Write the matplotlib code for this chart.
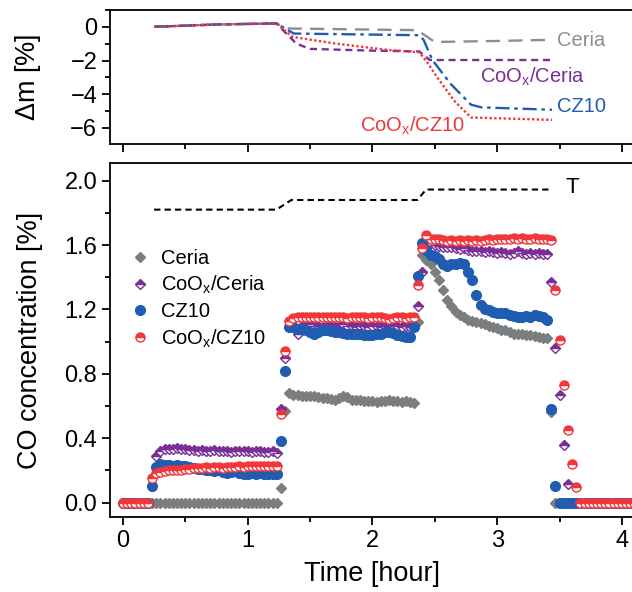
# CO concentration and mass change vs time for ceria-based catalysts
import numpy as np
import matplotlib
matplotlib.use("Agg")
import matplotlib.pyplot as plt
from matplotlib.ticker import MultipleLocator

plt.rcParams['font.family'] = ['Liberation Sans', 'DejaVu Sans']
plt.rcParams['mathtext.default'] = 'regular'

# colours
c_grey = "#7a7e7e"
c_grey_line = "#8e8e8e"
c_purple = "#7a2e96"
c_blue = "#1f5cb2"
c_red = "#f2373a"

# --- top panel: mass change (TGA) ---
dm_ceria_t = [0.25, 0.76, 1.23, 1.33, 2.36, 2.50, 3.0, 3.44]
dm_ceria = [0.0, 0.14, 0.2, -0.1, -0.2, -0.9, -0.84, -0.77]

dm_coceria_t = [0.25, 0.76, 1.23, 1.39, 1.50, 1.98, 2.375, 2.46, 3.44]
dm_coceria = [0.0, 0.14, 0.2, -1.0, -1.31, -1.41, -1.46, -1.97, -1.97]

dm_cz10_t = [0.25, 0.76, 1.23, 1.37, 2.375, 2.41, 2.48, 2.63, 2.79, 2.876, 3.44]
dm_cz10 = [0.0, 0.14, 0.2, -0.4, -0.5, -0.77, -1.97, -3.41, -4.62, -4.78, -4.92]

dm_cocz10_t = [0.25, 0.76, 1.23, 1.36, 1.71, 2.12, 2.375, 2.44, 2.52, 2.66, 2.79, 3.44]
dm_cocz10 = [0.0, 0.14, 0.2, -0.6, -1.0, -1.37, -1.51, -2.11, -3.01, -4.42, -5.38, -5.52]

# --- bottom panel: temperature profile (scaled) ---
temp_t = [0.25, 1.23, 1.35, 2.36, 2.43, 3.42]
temp_y = [1.82, 1.82, 1.88, 1.88, 1.945, 1.945]

# --- bottom panel: CO concentration, one sample every 2 min ---
dt = 2 / 60

co_ceria = [
    0, 0, 0, 0, 0, 0, 0, 0, 0, 0,
    0, 0, 0, 0, 0, 0, 0, 0, 0, 0,
    0, 0, 0, 0, 0, 0, 0, 0, 0, 0,
    0, 0, 0, 0, 0, 0, 0, 0, 0.09, 0.57,
    0.68, 0.67, 0.67, 0.665, 0.66, 0.665, 0.66, 0.655, 0.65, 0.65,
    0.645, 0.64, 0.65, 0.665, 0.655, 0.64, 0.635, 0.635, 0.63, 0.63,
    0.63, 0.625, 0.63, 0.63, 0.635, 0.63, 0.63, 0.625, 0.63, 0.625,
    0.62, 1.12, 1.54, 1.51, 1.48, 1.43, 1.38, 1.32, 1.26, 1.22,
    1.185, 1.165, 1.15, 1.135, 1.13, 1.12, 1.115, 1.11, 1.10, 1.09,
    1.085, 1.075, 1.07, 1.06, 1.05, 1.05, 1.045, 1.04, 1.04, 1.035,
    1.03, 1.025, 1.02, 0.56, 0, 0, 0, 0, 0, 0,
    0, 0, 0, 0, 0, 0, 0, 0, 0, 0,
    0, 0, 0, 0,
]

co_coceria = [
    0, 0, 0, 0, 0, 0, 0, 0.10, 0.29, 0.32,
    0.33, 0.335, 0.33, 0.34, 0.335, 0.33, 0.325, 0.325, 0.32, 0.325,
    0.32, 0.32, 0.325, 0.32, 0.32, 0.32, 0.315, 0.32, 0.32, 0.32,
    0.32, 0.315, 0.32, 0.32, 0.315, 0.315, 0.32, 0.31, 0.58, 0.90,
    1.09, 1.10, 1.05, 1.10, 1.10, 1.11, 1.10, 1.10, 1.09, 1.10,
    1.10, 1.09, 1.10, 1.11, 1.10, 1.10, 1.09, 1.10, 1.10, 1.09,
    1.10, 1.10, 1.09, 1.10, 1.09, 1.10, 1.10, 1.09, 1.10, 1.09,
    1.10, 1.22, 1.43, 1.60, 1.61, 1.60, 1.595, 1.59, 1.585, 1.59,
    1.58, 1.575, 1.58, 1.57, 1.565, 1.56, 1.56, 1.555, 1.56, 1.555,
    1.55, 1.555, 1.55, 1.545, 1.55, 1.56, 1.55, 1.545, 1.55, 1.545,
    1.55, 1.545, 1.545, 1.37, 0.96, 0.67, 0.36, 0.115, 0, 0,
    0, 0, 0, 0, 0, 0, 0, 0, 0, 0,
    0, 0, 0, 0,
]

co_cz10 = [
    0, 0, 0, 0, 0, 0, 0, 0.10, 0.22, 0.24,
    0.235, 0.235, 0.23, 0.235, 0.23, 0.225, 0.22, 0.215, 0.21, 0.21,
    0.205, 0.20, 0.195, 0.20, 0.19, 0.185, 0.19, 0.195, 0.185, 0.18,
    0.18, 0.185, 0.18, 0.185, 0.18, 0.18, 0.175, 0.18, 0.38, 0.82,
    1.09, 1.09, 1.08, 1.08, 1.07, 1.06, 1.05, 1.06, 1.07, 1.07,
    1.065, 1.06, 1.06, 1.055, 1.05, 1.05, 1.045, 1.05, 1.04, 1.04,
    1.04, 1.05, 1.05, 1.06, 1.06, 1.055, 1.04, 1.035, 1.03, 1.03,
    1.09, 1.41, 1.61, 1.57, 1.54, 1.53, 1.515, 1.48, 1.47, 1.48,
    1.485, 1.49, 1.48, 1.43, 1.38, 1.29, 1.23, 1.205, 1.195, 1.185,
    1.18, 1.18, 1.175, 1.165, 1.16, 1.155, 1.155, 1.16, 1.155, 1.165,
    1.16, 1.15, 1.135, 0.58, 0.10, 0, 0, 0, 0, 0,
    0, 0, 0, 0, 0, 0, 0, 0, 0, 0,
    0, 0, 0, 0,
]

co_cocz10 = [
    0, 0, 0, 0, 0, 0, 0, 0.155, 0.185, 0.19,
    0.195, 0.20, 0.20, 0.205, 0.205, 0.21, 0.21, 0.215, 0.215, 0.215,
    0.22, 0.215, 0.22, 0.22, 0.215, 0.22, 0.22, 0.22, 0.225, 0.22,
    0.225, 0.23, 0.225, 0.23, 0.225, 0.23, 0.23, 0.23, 0.55, 0.94,
    1.13, 1.145, 1.15, 1.15, 1.155, 1.15, 1.15, 1.155, 1.15, 1.15,
    1.155, 1.15, 1.155, 1.15, 1.145, 1.15, 1.15, 1.155, 1.15, 1.145,
    1.15, 1.155, 1.15, 1.145, 1.14, 1.145, 1.15, 1.15, 1.145, 1.15,
    1.15, 1.35, 1.58, 1.66, 1.64, 1.635, 1.635, 1.63, 1.625, 1.63,
    1.625, 1.63, 1.625, 1.63, 1.625, 1.63, 1.625, 1.63, 1.635, 1.63,
    1.635, 1.64, 1.635, 1.64, 1.645, 1.64, 1.645, 1.64, 1.64, 1.645,
    1.64, 1.635, 1.635, 1.63, 1.32, 1.01, 0.73, 0.45, 0.24, 0.095,
    0, 0, 0, 0, 0, 0, 0, 0, 0, 0,
    0, 0, 0, 0,
]

time = np.arange(len(co_cocz10)) * dt

fig = plt.figure(figsize=(6.32, 5.92), dpi=100)
ax_top = fig.add_axes([0.1748, 0.7568, 0.829, 0.2264])
ax_bot = fig.add_axes([0.1748, 0.1267, 0.829, 0.598])

# top panel
ax_top.plot(dm_ceria_t, dm_ceria, color=c_grey_line, lw=1.7, dashes=(6, 3.5))
ax_top.plot(dm_coceria_t, dm_coceria, color=c_purple, lw=1.7, dashes=(3, 2))
ax_top.plot(dm_cz10_t, dm_cz10, color=c_blue, lw=1.7, dashes=(6, 2, 1.5, 2))
ax_top.plot(dm_cocz10_t, dm_cocz10, color=c_red, lw=1.7, dashes=(1, 1))

lbl_kw = dict(fontsize=14.5, va="center", ha="left")
ax_top.text(3.48, -0.8, "Ceria", color=c_grey_line, **lbl_kw)
ax_top.text(2.86, -2.95, "CoO$_x$/Ceria", color=c_purple, **lbl_kw)
ax_top.text(3.48, -4.75, "CZ10", color=c_blue, **lbl_kw)
ax_top.text(1.90, -5.85, "CoO$_x$/CZ10", color=c_red, **lbl_kw)

ax_top.set_ylim(-6.95, 1.0)
ax_top.yaxis.set_major_locator(MultipleLocator(2))
ax_top.yaxis.set_minor_locator(MultipleLocator(1))
ax_top.set_ylabel(r"$\Delta$m [%]", fontsize=19.5)
ax_top.tick_params(axis="x", labelbottom=False)

# bottom panel
ax_bot.plot(temp_t, temp_y, color="black", lw=1.5, dashes=(3, 2))
ax_bot.text(3.55, 1.96, "T", fontsize=16, ha="left", va="center")

ax_bot.plot(time, co_ceria, ls="none", marker="D", ms=5.5, color=c_grey,
            mec=c_grey, label="Ceria")
ax_bot.plot(time, co_coceria, ls="none", marker="D", ms=5.5, color=c_purple,
            mec=c_purple, mew=1.0, fillstyle="top", markerfacecoloralt="white",
            label="CoO$_x$/Ceria")
ax_bot.plot(time, co_cz10, ls="none", marker="o", ms=7, color=c_blue,
            mec=c_blue, label="CZ10")
ax_bot.plot(time, co_cocz10, ls="none", marker="o", ms=6.5, color=c_red,
            mec=c_red, mew=1.0, fillstyle="top", markerfacecoloralt="white",
            label="CoO$_x$/CZ10")

ax_bot.set_ylim(-0.09, 2.11)
ax_bot.yaxis.set_major_locator(MultipleLocator(0.4))
ax_bot.yaxis.set_minor_locator(MultipleLocator(0.2))
ax_bot.yaxis.set_major_formatter(plt.FormatStrFormatter("%.1f"))
ax_bot.set_xlabel("Time [hour]", fontsize=19.5)
ax_bot.set_ylabel("CO concentration [%]", fontsize=19.5)

ax_bot.legend(loc="upper left", bbox_to_anchor=(0.037, 0.757), frameon=False,
              fontsize=14.5, handlelength=1.0, handletextpad=0.55,
              labelspacing=0.3, borderpad=0, borderaxespad=0, numpoints=1)

for ax in (ax_top, ax_bot):
    ax.set_xlim(-0.1, 4.1)
    ax.xaxis.set_major_locator(MultipleLocator(1))
    ax.xaxis.set_minor_locator(MultipleLocator(0.5))
    ax.tick_params(which="both", direction="out", width=1.3, labelsize=17,
                   top=False, right=False)
    ax.tick_params(which="major", length=6)
    ax.tick_params(which="minor", length=3.5)
    for s in ax.spines.values():
        s.set_linewidth(1.3)

ax_top.yaxis.set_label_coords(-0.128, 0.5)
ax_bot.yaxis.set_label_coords(-0.128, 0.5)
ax_bot.xaxis.set_label_coords(0.5, -0.125)

fig.savefig("out.png", dpi=100)
